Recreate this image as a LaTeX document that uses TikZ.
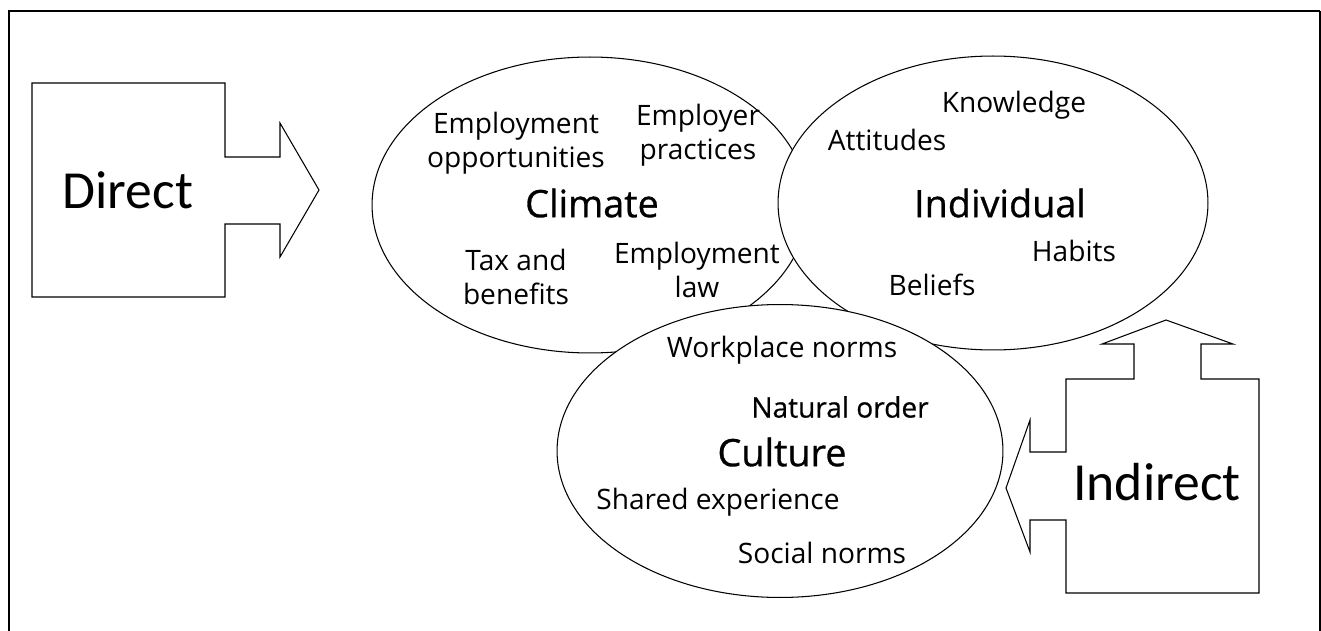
\documentclass[tikz,border=0pt]{standalone}
\usepackage{fontspec}
\setmainfont{Open Sans}
\newfontfamily\arrowfont{Carlito}
\usetikzlibrary{shapes,positioning}
\tikzstyle{sphere} = [ellipse, draw, fill=white, line width=0.6pt, inner sep=0pt]
\tikzstyle{item} = [align=center, font=\fontsize{16}{19.5}\selectfont, inner sep=0pt]
\tikzstyle{title} = [font=\addfontfeature{FakeBold=0.8}\fontsize{21.5}{26}\selectfont, inner sep=0pt]
\tikzstyle{bigword} = [font=\arrowfont\fontsize{30.5}{34}\selectfont, inner sep=0pt]
\tikzstyle{outline} = [draw, line width=0.6pt, line join=miter]

\begin{document}
\begin{tikzpicture}[x=0.02cm, y=-0.02cm]
        \useasboundingbox (0,0) rectangle (1321,631);
        % frame, open at the bottom
        \draw [line width=1.5pt] (9,631) -- (9,11) -- (1320,11);
        \draw [line width=0.6pt] (1320,11) -- (1320,631);

        % direct arrow
        \path [outline] (32,83) -- (225,83) -- (225,157) -- (280,157) -- (280,123)
            -- (319,190) -- (280,257) -- (280,224) -- (225,224) -- (225,297)
            -- (32,297) -- cycle;
        \node [bigword] (direct) at (128,190) {Direct};

        % the three spheres
        \node [sphere, minimum width=8.72cm, minimum height=5.92cm] (climate) at (590,205) {};
        \node [sphere, minimum width=8.6cm, minimum height=5.88cm] (individual) at (993,203) {};
        \node [sphere, minimum width=8.92cm, minimum height=5.86cm] (culture) at (780,451) {};

        \node [title] (climatename) at (592,203) {Climate};
        \node [item] (opportunities) at (516,143) {Employment\\opportunities};
        \node [item] (practices) at (698,135) {Employer\\practices};
        \node [item] (tax) at (516,277) {Tax and\\benefits};
        \node [item] (law) at (697,270) {Employment\\law};

        \node [title] (individualname) at (1000,203) {Individual};
        \node [item] (knowledge) at (1014,105) {Knowledge};
        \node [item] (attitudes) at (887,140) {Attitudes};
        \node [item] (habits) at (1074,251) {Habits};
        \node [item] (beliefs) at (932,285) {Beliefs};

        \node [title] (culturename) at (782,452) {Culture};
        \node [item] (workplace) at (782,350) {Workplace norms};
        \node [item, font=\addfontfeature{FakeBold=0.6}\fontsize{16}{19.5}\selectfont] (natural) at (840,407) {Natural order};
        \node [item] (shared) at (718,502) {Shared experience};
        \node [item] (social) at (822,553) {Social norms};

        % indirect arrow, pointing up and left
        \path [outline] (1066,379) -- (1134,379) -- (1134,344) -- (1102,344) -- (1166,320)
            -- (1233,344) -- (1201,344) -- (1201,379) -- (1259,379) -- (1259,593)
            -- (1066,593) -- (1066,520) -- (1030,520) -- (1030,552) -- (1006,488)
            -- (1030,420) -- (1030,452) -- (1066,452) -- cycle;
        \node [bigword] (indirect) at (1157,482) {Indirect};
    \end{tikzpicture}
\end{document}
